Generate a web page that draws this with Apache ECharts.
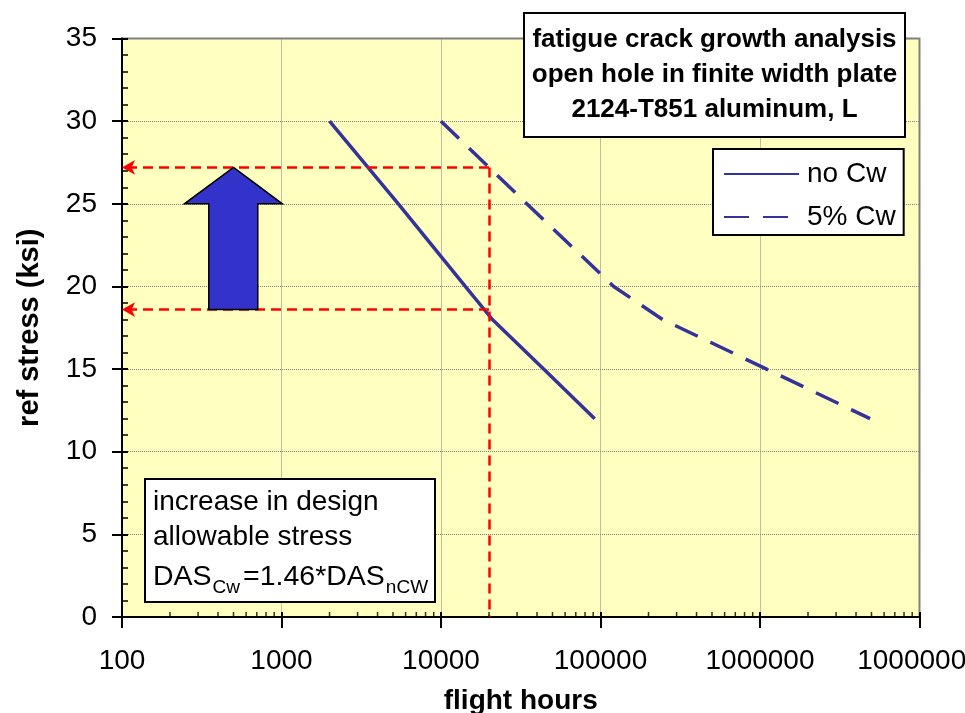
<!DOCTYPE html>
<html><head><meta charset="utf-8">
<script src="https://cdn.jsdelivr.net/npm/echarts@6/dist/echarts.min.js"></script>
<style>html,body{margin:0;padding:0;background:#fff}#c{width:965px;height:713px}</style>
</head><body><div id="c"></div>
<script>
// ---- data ----
const seriesNames = ['no Cw', '5% Cw'];
const noCwHours  = [2000, 5400, 14200, 21000, 44000, 92000];
const noCwStress = [30, 25, 20, 18, 15, 12];
const cwHours    = [10000, 34500, 121000, 245000, 1100000, 4900000];
const cwStress   = [30, 25, 20, 18, 15, 12];
const xMin = 100, xMax = 10000000;
const yMin = 0, yMax = 35, yStep = 5;
const designHours = 20000;
const dasNoCw = 18.6;
const dasCw = 27.2;
// block arrow in data space: x (flight hours) left head, left shaft, tip, right shaft, right head
const arrowHours = [246, 350, 500, 710, 1012];
const arrowStress = [18.6, 25, 27.2];
const titleLines = ['fatigue crack growth analysis', 'open hole in finite width plate', '2124-T851 aluminum, L'];
const noteLines = ['increase in design', 'allowable stress'];
const xAxisName = 'flight hours';
const yAxisName = 'ref stress (ksi)';

// minor tick values for the log axis (2..9 in every decade)
const xMinorTicks = [];
for (let d = xMin; d < xMax; d *= 10) for (let k = 2; k <= 9; k++) xMinorTicks.push(k * d);

const FONT = 'Liberation Sans, Arial, sans-serif';
const LINE = '#333399';

const chart = echarts.init(document.getElementById('c'), null, {renderer: 'canvas'});
const grid = {left: 122, right: 45.5, top: 38.5, bottom: 96, show: true, containLabel: false,
  outerBoundsMode: 'none',
  backgroundColor: '#FFFFC0', borderColor: '#808080', borderWidth: 2};

const option = {
  animation: false,
  backgroundColor: '#fff',
  grid: grid,
  legend: {
    data: seriesNames, orient: 'vertical', left: 713, top: 149,
    itemWidth: 75, itemHeight: 14, itemGap: 13, padding: [10, 8, 3, 10],
    borderColor: '#000', borderWidth: 2, backgroundColor: '#fff',
    itemStyle: {color: 'rgba(0,0,0,0)', borderWidth: 0, opacity: 0},
    textStyle: {fontFamily: FONT, fontSize: 28, color: '#000', lineHeight: 30, padding: [0, 0, 0, 3]}
  },
  xAxis: [{
    type: 'log', logBase: 10, min: xMin, max: xMax,
    name: xAxisName, nameLocation: 'middle', nameGap: 70,
    nameTextStyle: {fontFamily: FONT, fontSize: 28, fontWeight: 'bold', color: '#000'},
    axisLine: {show: true, lineStyle: {color: '#000', width: 2}},
    axisTick: {show: true, length: 11, lineStyle: {color: '#000', width: 2}},
    axisLabel: {fontFamily: FONT, fontSize: 28, color: '#000', margin: 30,
      formatter: v => String(Math.round(v))},
    splitLine: {show: true, lineStyle: {color: '#808080', width: 1, type: [1, 1]}},
    minorTick: {show: false}
  }, {
    type: 'log', logBase: 10, min: xMin, max: xMax, position: 'bottom',
    axisLine: {show: false}, axisLabel: {show: false}, splitLine: {show: false},
    axisTick: {show: true, inside: true, length: 5, lineStyle: {color: '#000', width: 2}}
  }],
  yAxis: [{
    type: 'value', min: yMin, max: yMax, interval: yStep,
    name: yAxisName, nameLocation: 'middle', nameGap: 78,
    nameTextStyle: {fontFamily: FONT, fontSize: 29, fontWeight: 'bold', color: '#000'},
    axisLine: {show: true, lineStyle: {color: '#000', width: 2}},
    axisTick: {show: true, length: 10, lineStyle: {color: '#000', width: 2}},
    axisLabel: {fontFamily: FONT, fontSize: 28, color: '#000', margin: 25},
    splitLine: {show: true, lineStyle: {color: '#808080', width: 1, type: [1, 1]}}
  }, {
    type: 'value', min: yMin, max: yMax, interval: yStep, position: 'left', offset: 0,
    axisLine: {show: false}, axisLabel: {show: false}, splitLine: {show: false},
    axisTick: {show: true, inside: true, length: 6, lineStyle: {color: '#000', width: 2}},
    minorTick: {show: true, splitNumber: 5, length: 6, lineStyle: {color: '#000', width: 1.5}}
  }],
  series: [
    {
      name: 'minorTicks', type: 'scatter', xAxisIndex: 0, yAxisIndex: 0, silent: true, clip: false, z: 5,
      data: xMinorTicks.map(v => [v, yMin]),
      symbol: 'rect', symbolSize: [1.5, 5], symbolOffset: [0, -2.5],
      itemStyle: {color: '#000'}
    },
    {
      name: seriesNames[0], type: 'line', symbol: 'none', z: 4,
      data: noCwHours.map((h, i) => [h, noCwStress[i]]),
      lineStyle: {color: LINE, width: 3.5, type: 'solid'}, itemStyle: {color: LINE},
      markLine: {
        silent: true, animation: false, label: {show: false}, symbol: ['none', 'none'],
        data: [
          [{coord: [designHours, dasCw], symbol: 'none'}, {coord: [xMin, dasCw], symbol: 'arrow', symbolSize: [11, 13]}],
          [{coord: [designHours, dasNoCw], symbol: 'none'}, {coord: [xMin, dasNoCw], symbol: 'arrow', symbolSize: [11, 13]}],
          [{coord: [designHours, dasCw], symbol: 'none'}, {coord: [designHours, yMin], symbol: 'none'}]
        ],
        lineStyle: {color: '#FF0000', width: 2.5, type: [10, 6]}
      }
    },
    {
      name: seriesNames[1], type: 'line', symbol: 'none', z: 4,
      data: cwHours.map((h, i) => [h, cwStress[i]]),
      lineStyle: {color: LINE, width: 3.5, type: [25, 14]}, itemStyle: {color: LINE}
    },
    {
      name: 'arrow', type: 'custom', silent: true, z: 6, clip: false,
      data: [[arrowHours[2], arrowStress[2]]],
      renderItem: (params, api) => {
        const c = (x, y) => api.coord([x, y]);
        const pts = [
          c(arrowHours[2], arrowStress[2]),
          c(arrowHours[4], arrowStress[1]),
          c(arrowHours[3], arrowStress[1]),
          c(arrowHours[3], arrowStress[0]),
          c(arrowHours[1], arrowStress[0]),
          c(arrowHours[1], arrowStress[1]),
          c(arrowHours[0], arrowStress[1])
        ];
        return {type: 'polygon', shape: {points: pts},
          style: {fill: '#3333CC', stroke: '#000', lineWidth: 1.5}};
      }
    }
  ],
  graphic: [
    {type: 'rect', z: 100, shape: {x: 524, y: 13, width: 381, height: 124},
      style: {fill: '#fff', stroke: '#000', lineWidth: 2}},
    {type: 'text', z: 101, x: 714.5, y: 75,
      style: {text: titleLines.join('\n'), align: 'center', verticalAlign: 'middle',
        font: 'bold 26px ' + FONT, lineHeight: 35, fill: '#000'}},
    {type: 'rect', z: 100, shape: {x: 145, y: 479, width: 290, height: 123},
      style: {fill: '#fff', stroke: '#000', lineWidth: 2}},
    {type: 'text', z: 101, x: 153, y: 502,
      style: {text: noteLines[0], verticalAlign: 'middle', font: '28px ' + FONT, fill: '#000'}},
    {type: 'text', z: 101, x: 153, y: 537,
      style: {text: noteLines[1], verticalAlign: 'middle', font: '28px ' + FONT, fill: '#000'}},
    {type: 'text', z: 101, x: 153, y: 563,
      style: {text: '{b|DAS}{s|Cw}{b|=1.46*DAS}{s|nCW}', verticalAlign: 'top', fill: '#000',
        rich: {
          b: {fontFamily: FONT, fontSize: 28.5, lineHeight: 28, verticalAlign: 'top', fill: '#000'},
          s: {fontFamily: FONT, fontSize: 19, lineHeight: 18, padding: [15, 3, 0, 1], verticalAlign: 'top', fill: '#000'}
        }}}
  ]
};
chart.setOption(option);
</script></body></html>
